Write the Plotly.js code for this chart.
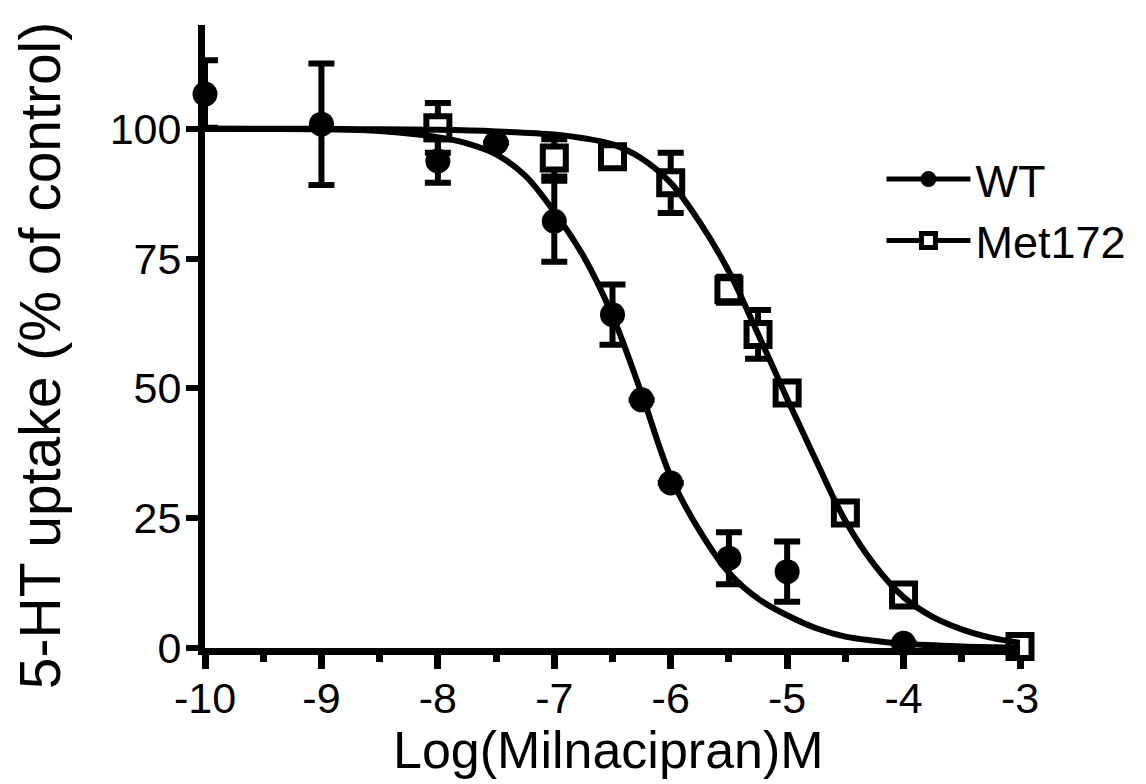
<!DOCTYPE html>
<html>
<head>
<meta charset="utf-8">
<script src="https://cdn.plot.ly/plotly-3.0.1.min.js"></script>
<style>html,body{margin:0;padding:0;background:#fff;}#chart{width:1146px;height:784px;}</style>
</head>
<body>
<div id="chart"></div>
<script>
// Measured data points
const wtX   = [-10, -9, -8, -7.5, -7, -6.5, -6.25, -6, -5.5, -5, -4];
const wtY   = [106.7, 100.9, 93.8, 97.3, 82.2, 64.2, 47.8, 31.8, 17.3, 14.7, 0.9];
const wtErr = [6.5, 11.7, 4.2, 0, 7.8, 5.8, 0, 0, 5.0, 5.8, 0];

const metX   = [-8, -7, -6.5, -6, -5.5, -5.25, -5, -4.5, -4, -3];
const metY   = [100.2, 94.4, 94.6, 89.6, 69.0, 60.4, 49.1, 26.0, 10.2, 0.3];
const metErr = [4.8, 3.6, 0, 5.8, 2.5, 4.7, 0, 0, 0, 0];

// Fitted curves
const wtCurveX = [-10, -9.5, -9, -8.5, -8, -7.75, -7.5, -7.25, -7, -6.75, -6.5, -6.25, -6, -5.75, -5.5, -5.25, -5, -4.75, -4.5, -4.25, -4, -3.5, -3];
const wtCurveY = [100, 99.97, 99.9, 99.6, 98.4, 97.2, 95.1, 91, 84, 75.5, 64, 49, 33, 22.5, 14.5, 9.5, 6.3, 3.8, 2.2, 1.4, 0.8, 0.3, 0.1];

const metCurveX = [-10, -9, -8.5, -8, -7.5, -7, -6.75, -6.5, -6.25, -6, -5.75, -5.5, -5.25, -5, -4.75, -4.5, -4.25, -4, -3.75, -3.5, -3.25, -3];
const metCurveY = [100, 100, 99.9, 99.8, 99.5, 98.9, 98.2, 97, 94.3, 89.6, 82, 72.5, 60.5, 48, 36, 24.5, 16, 9.8, 6, 3.6, 2, 1];

const xTickVals = [-10, -9, -8, -7, -6, -5, -4, -3];
const xTickText = ['-10', '-9', '-8', '-7', '-6', '-5', '-4', '-3'];
const yTickVals = [0, 25, 50, 75, 100];
const yTickText = ['0', '25', '50', '75', '100'];
const seriesNames = ['WT', 'Met172'];
const xTitle = 'Log(Milnacipran)M';
const yTitle = '5-HT uptake (% of control)';

const FONT = 'Liberation Sans, Arial, Helvetica, sans-serif';

const traces = [
  {
    x: wtX, y: wtY, type: 'scatter', mode: 'markers', showlegend: false, cliponaxis: false,
    marker: {symbol: 'circle', size: 25, color: '#000'},
    error_y: {type: 'data', array: wtErr, visible: true, color: '#000', thickness: 6, width: 13}
  },
  {
    x: metX, y: metY, type: 'scatter', mode: 'markers', showlegend: false, cliponaxis: false,
    marker: {symbol: 'square', size: 23, color: '#fff', line: {color: '#000', width: 6}},
    error_y: {type: 'data', array: metErr, visible: true, color: '#000', thickness: 6, width: 13}
  },
  {
    x: wtCurveX, y: wtCurveY, type: 'scatter', mode: 'lines', showlegend: false, cliponaxis: false,
    line: {color: '#000', width: 6, shape: 'spline', smoothing: 1}
  },
  {
    x: metCurveX, y: metCurveY, type: 'scatter', mode: 'lines', showlegend: false, cliponaxis: false,
    line: {color: '#000', width: 6, shape: 'spline', smoothing: 1}
  },
  {
    x: [null], y: [null], type: 'scatter', mode: 'lines+markers', name: seriesNames[0],
    line: {color: '#000', width: 5},
    marker: {symbol: 'circle', size: 24, color: '#000'}
  },
  {
    x: [null], y: [null], type: 'scatter', mode: 'lines+markers', name: seriesNames[1],
    line: {color: '#000', width: 5},
    marker: {symbol: 'square', size: 14, color: '#fff', line: {color: '#000', width: 5}}
  }
];

const layout = {
  width: 1146, height: 784,
  margin: {l: 205, r: 126, t: 25, b: 136, autoexpand: false},
  paper_bgcolor: '#fff', plot_bgcolor: '#fff',
  font: {family: FONT, color: '#000'},
  showlegend: true,
  legend: {
    x: 0.83, y: 0.81, xanchor: 'left', yanchor: 'top',
    font: {family: FONT, size: 45, color: '#000'},
    bgcolor: 'rgba(0,0,0,0)', borderwidth: 0, itemwidth: 84, tracegroupgap: 0
  },
  xaxis: {
    range: [-10, -3], showgrid: false, zeroline: false, automargin: false,
    showline: true, linecolor: '#000', linewidth: 7,
    tickmode: 'array', tickvals: xTickVals, ticktext: xTickText,
    ticks: 'outside', ticklen: 14, tickwidth: 7, tickcolor: '#000',
    minor: {dtick: 0.5, tick0: -10, ticks: 'outside', ticklen: 7, tickwidth: 7, tickcolor: '#000', showgrid: false},
    tickfont: {family: FONT, size: 43, color: '#000'},
    ticklabelstandoff: -8
  },
  yaxis: {
    range: [0, 120], showgrid: false, zeroline: false, automargin: false,
    showline: true, linecolor: '#000', linewidth: 7,
    tickmode: 'array', tickvals: yTickVals, ticktext: yTickText,
    ticks: 'outside', ticklen: 12, tickwidth: 6, tickcolor: '#000',
    tickfont: {family: FONT, size: 43, color: '#000'},
    ticklabelstandoff: -4
  },
  annotations: [
    {text: xTitle, xref: 'paper', yref: 'paper', x: 0.495, y: -0.163, xanchor: 'center', yanchor: 'middle',
     showarrow: false, font: {family: FONT, size: 52, color: '#000'}},
    {text: yTitle, xref: 'paper', yref: 'paper', x: -0.2025, y: 0.47, xanchor: 'center', yanchor: 'middle',
     textangle: -90, showarrow: false, font: {family: FONT, size: 57, color: '#000'}}
  ]
};

Plotly.newPlot('chart', traces, layout, {displayModeBar: false, staticPlot: true});
</script>
</body>
</html>
